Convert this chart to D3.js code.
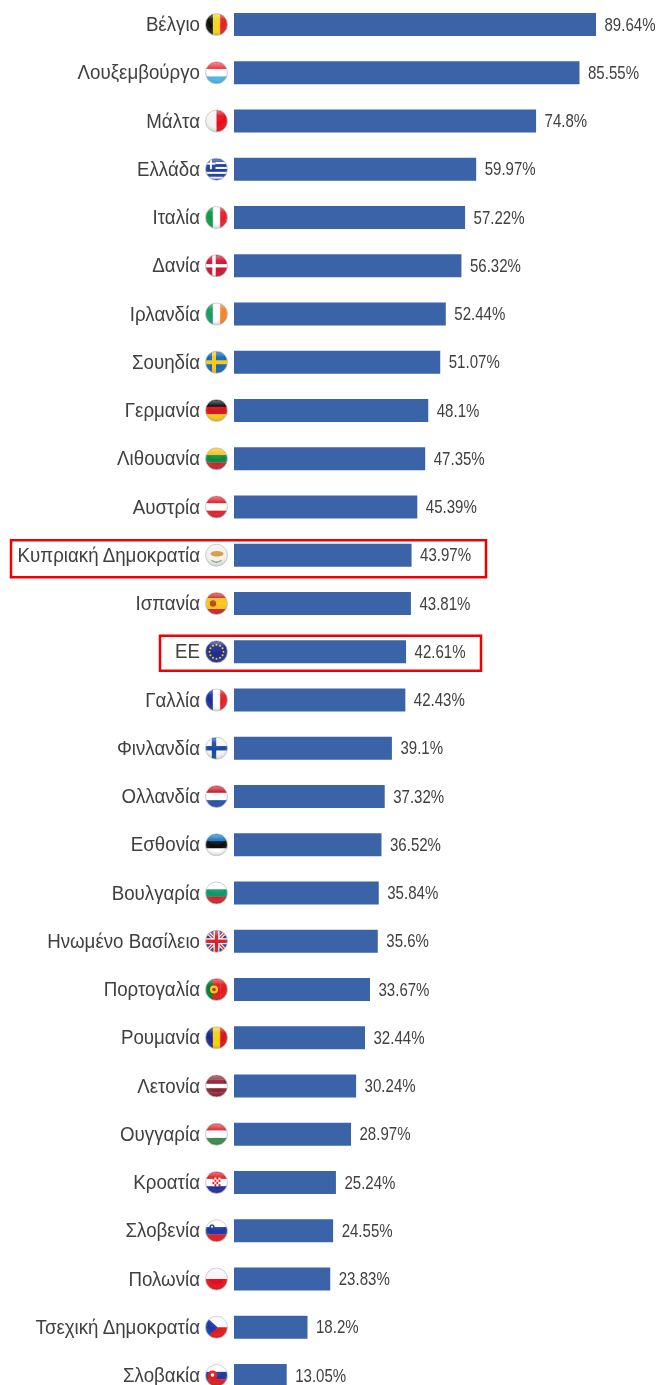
<!DOCTYPE html>
<meta charset="utf-8">
<head>
<style>
html, body { margin: 0; padding: 0; background: #fff; }
svg { display: block; }
text { font-family: "Liberation Sans", Arial, sans-serif; fill: #404040; }
.name { font-size: 19.5px; }
.val { font-size: 17.5px; }
.bar { fill: #3a63a8; }
.box { fill: none; stroke: #f00000; stroke-width: 2.5; }
</style>
</head>
<body>
<svg width="658" height="1385"></svg>
<script src="https://d3js.org/d3.v7.min.js"></script>
<script>

var countries = ["Βέλγιο","Λουξεμβούργο","Μάλτα","Ελλάδα","Ιταλία","Δανία","Ιρλανδία","Σουηδία","Γερμανία","Λιθουανία","Αυστρία","Κυπριακή Δημοκρατία","Ισπανία","ΕΕ","Γαλλία","Φινλανδία","Ολλανδία","Εσθονία","Βουλγαρία","Ηνωμένο Βασίλειο","Πορτογαλία","Ρουμανία","Λετονία","Ουγγαρία","Κροατία","Σλοβενία","Πολωνία","Τσεχική Δημοκρατία","Σλοβακία"];
var values = [89.64,85.55,74.8,59.97,57.22,56.32,52.44,51.07,48.1,47.35,45.39,43.97,43.81,42.61,42.43,39.1,37.32,36.52,35.84,35.6,33.67,32.44,30.24,28.97,25.24,24.55,23.83,18.2,13.05];

// stripe direction and colours of each flag, same order as countries
var flagDirs = ["v","h","v","h","v","h","v","h","h","h","h","h","h","h","v","h","h","h","h","h","v","v","h","h","h","h","h","h","h"];
var flagColors = [
  ["#111","#f5d320","#e8202a"],["#ee3a43","#fff","#4db5ea"],["#f4f4f4","#e8101c"],["#1a3fa8"],
  ["#109a47","#fff","#e3202b"],["#cf1433"],["#169b62","#fff","#f5842b"],["#1268b3"],
  ["#111","#d8141c","#f8c818"],["#f5c21b","#0f8a45","#c8242c"],["#e2202c","#fff","#e2202c"],["#f2f2ee"],
  ["#d8202a","#f7c51a","#f7c51a","#d8202a"],["#1f2f8f"],["#1a2f9a","#fff","#e3202b"],["#f6f6f6"],
  ["#c8202c","#fff","#2352a8"],["#1478c8","#111","#fff"],["#fff","#109a6a","#d8202a"],["#1f3a8c"],
  ["#0f7a30","#e01a20","#e01a20"],["#1a2a90","#f8d010","#d8141c"],["#8c2333","#8c2333","#fff","#8c2333","#8c2333"],["#d8303a","#fff","#3a8a4a"],
  ["#e01a20","#fff","#1a2f9a"],["#fff","#1a3aa8","#e01a20"],["#f6f6f6","#e8101c"],["#fff","#e01a20"],["#fff","#1a3aa8","#e01a20"]
];

var svg = d3.select("svg");

var x = d3.scaleLinear().domain([0, 89.64]).range([234, 596]);
var y = d3.scalePoint().domain(countries).range([24.5, 1375.5]);

var barH = 23, flagX = 216.5, flagR = 11;

function cross(g, col, w, cx) {
  g.append("rect").attr("x", -flagR).attr("y", -w / 2).attr("width", 2 * flagR).attr("height", w).attr("fill", col);
  g.append("rect").attr("x", cx - w / 2).attr("y", -flagR).attr("width", w).attr("height", 2 * flagR).attr("fill", col);
}

function crest(g, cx, cy, r, col) {
  g.append("circle").attr("cx", cx).attr("cy", cy).attr("r", r).attr("fill", col);
}

// details on top of the stripes
var extras = {
  "Ελλάδα": function(g) {
    d3.range(4).forEach(function(k) {
      g.append("rect").attr("x", -flagR).attr("y", -7.2 + k * 4.9).attr("width", 2 * flagR).attr("height", 2).attr("fill", "#fff");
    });
    g.append("rect").attr("x", -flagR).attr("y", -flagR).attr("width", 10).attr("height", 11).attr("fill", "#1a3fa8");
    g.append("rect").attr("x", -flagR).attr("y", -6.6).attr("width", 10).attr("height", 2).attr("fill", "#fff");
    g.append("rect").attr("x", -6.6).attr("y", -flagR).attr("width", 2).attr("height", 11).attr("fill", "#fff");
  },
  "Δανία": function(g) { cross(g, "#fff", 3.4, -2.5); },
  "Σουηδία": function(g) { cross(g, "#f8c818", 4, -2.5); },
  "Φινλανδία": function(g) { cross(g, "#1a4a9a", 4.4, -2.5); },
  "Ηνωμένο Βασίλειο": function(g) {
    [[-11, -11, 11, 11], [-11, 11, 11, -11]].forEach(function(l) {
      g.append("line").attr("x1", l[0]).attr("y1", l[1]).attr("x2", l[2]).attr("y2", l[3]).attr("stroke", "#fff").attr("stroke-width", 3.6);
      g.append("line").attr("x1", l[0]).attr("y1", l[1]).attr("x2", l[2]).attr("y2", l[3]).attr("stroke", "#d8202a").attr("stroke-width", 1.3);
    });
    cross(g, "#fff", 6, 0);
    cross(g, "#d8202a", 3.4, 0);
  },
  "Πορτογαλία": function(g) { crest(g, -2.5, 0, 4, "#f8d010"); crest(g, -2.5, 0, 1.8, "#d8202a"); },
  "Ισπανία": function(g) { crest(g, -3.5, 0, 3.2, "#b8482a"); },
  "Κροατία": function(g) {
    d3.range(4).forEach(function(r) {
      d3.range(4).forEach(function(c) {
        g.append("rect").attr("x", -4 + c * 2).attr("y", -5 + r * 2.2).attr("width", 2).attr("height", 2.2)
            .attr("fill", (r + c) % 2 ? "#fff" : "#e01a20");
      });
    });
  },
  "Σλοβενία": function(g) { crest(g, -4.5, -4, 2.6, "#1a3aa8"); crest(g, -4.5, -4, 1, "#fff"); },
  "Σλοβακία": function(g) { crest(g, -4, 0, 5, "#e01a20"); crest(g, -4, -0.5, 1.8, "#fff"); },
  "Τσεχική Δημοκρατία": function(g) {
    g.append("path").attr("d", "M-11,-11L1,0L-11,11Z").attr("fill", "#1a3aa8");
  },
  "Κυπριακή Δημοκρατία": function(g) {
    g.append("ellipse").attr("cx", 0.5).attr("cy", -1.5).attr("rx", 6.5).attr("ry", 2.8).attr("fill", "#d89a48");
    g.append("path").attr("d", "M-5,5Q0,9 5,5").attr("fill", "none").attr("stroke", "#7aa07a").attr("stroke-width", 1.3);
  },
  "ΕΕ": function(g) {
    d3.range(12).forEach(function(k) {
      var a = k * Math.PI / 6;
      crest(g, 7 * Math.cos(a), 7 * Math.sin(a), 1, "#f8d010");
    });
  }
};

var defs = svg.append("defs");

var gloss = defs.append("radialGradient").attr("id", "gloss")
    .attr("cx", "50%").attr("cy", "35%").attr("r", "70%");
gloss.append("stop").attr("offset", "0.55").attr("stop-color", "#fff").attr("stop-opacity", 0);
gloss.append("stop").attr("offset", "1").attr("stop-color", "#000").attr("stop-opacity", 0.28);

var shine = defs.append("linearGradient").attr("id", "shine")
    .attr("x1", 0).attr("y1", 0).attr("x2", 0).attr("y2", 1);
shine.append("stop").attr("offset", 0).attr("stop-color", "#fff").attr("stop-opacity", 0.4);
shine.append("stop").attr("offset", 0.5).attr("stop-color", "#fff").attr("stop-opacity", 0.05);

defs.append("clipPath").attr("id", "disc").append("circle").attr("r", flagR);
defs.append("filter").attr("id", "soft").append("feGaussianBlur").attr("stdDeviation", 0.35);

var rows = svg.append("g").attr("filter", "url(#soft)").selectAll(".row")
    .data(countries)
  .enter().append("g")
    .attr("class", "row");

rows.append("rect")
    .attr("class", "bar")
    .attr("x", x(0))
    .attr("y", function(d) { return y(d) - barH / 2; })
    .attr("width", function(d, i) { return x(values[i]) - x(0); })
    .attr("height", barH);

// text is a bit condensed in the original, so squeeze it horizontally
rows.append("text")
    .attr("class", "name")
    .attr("text-anchor", "end")
    .attr("transform", function(d) { return "translate(200," + (y(d) + 6.5) + ") scale(0.96,1)"; })
    .text(function(d) { return d; });

rows.append("text")
    .attr("class", "val")
    .attr("transform", function(d, i) { return "translate(" + (x(values[i]) + 8.5) + "," + (y(d) + 6) + ") scale(0.86,1)"; })
    .text(function(d, i) { return values[i] + "%"; });

var flags = rows.append("g")
    .attr("transform", function(d) { return "translate(" + flagX + "," + y(d) + ")"; });

var inner = flags.append("g").attr("clip-path", "url(#disc)");

inner.each(function(d, i) {
  var g = d3.select(this), cols = flagColors[i], n = cols.length, s = 2 * flagR / n;
  cols.forEach(function(c, k) {
    if (flagDirs[i] == "h") g.append("rect").attr("x", -flagR).attr("y", -flagR + k * s).attr("width", 2 * flagR).attr("height", s + 0.2).attr("fill", c);
    else g.append("rect").attr("x", -flagR + k * s).attr("y", -flagR).attr("width", s + 0.2).attr("height", 2 * flagR).attr("fill", c);
  });
  if (extras[d]) extras[d](g);
});

flags.append("circle").attr("r", flagR).attr("fill", "url(#gloss)");
flags.append("ellipse").attr("cy", -5).attr("rx", 8).attr("ry", 5).attr("fill", "url(#shine)");
flags.append("circle").attr("r", flagR).attr("fill", "none").attr("stroke", "#c4c4c4").attr("stroke-width", 0.8);

// red boxes round Cyprus and the EU
svg.append("rect").attr("class", "box")
    .attr("x", 11).attr("y", y("Κυπριακή Δημοκρατία") - 15)
    .attr("width", 475).attr("height", 37);
svg.append("rect").attr("class", "box")
    .attr("x", 160).attr("y", y("ΕΕ") - 16)
    .attr("width", 321).attr("height", 35);

</script>
</body>
</html>
